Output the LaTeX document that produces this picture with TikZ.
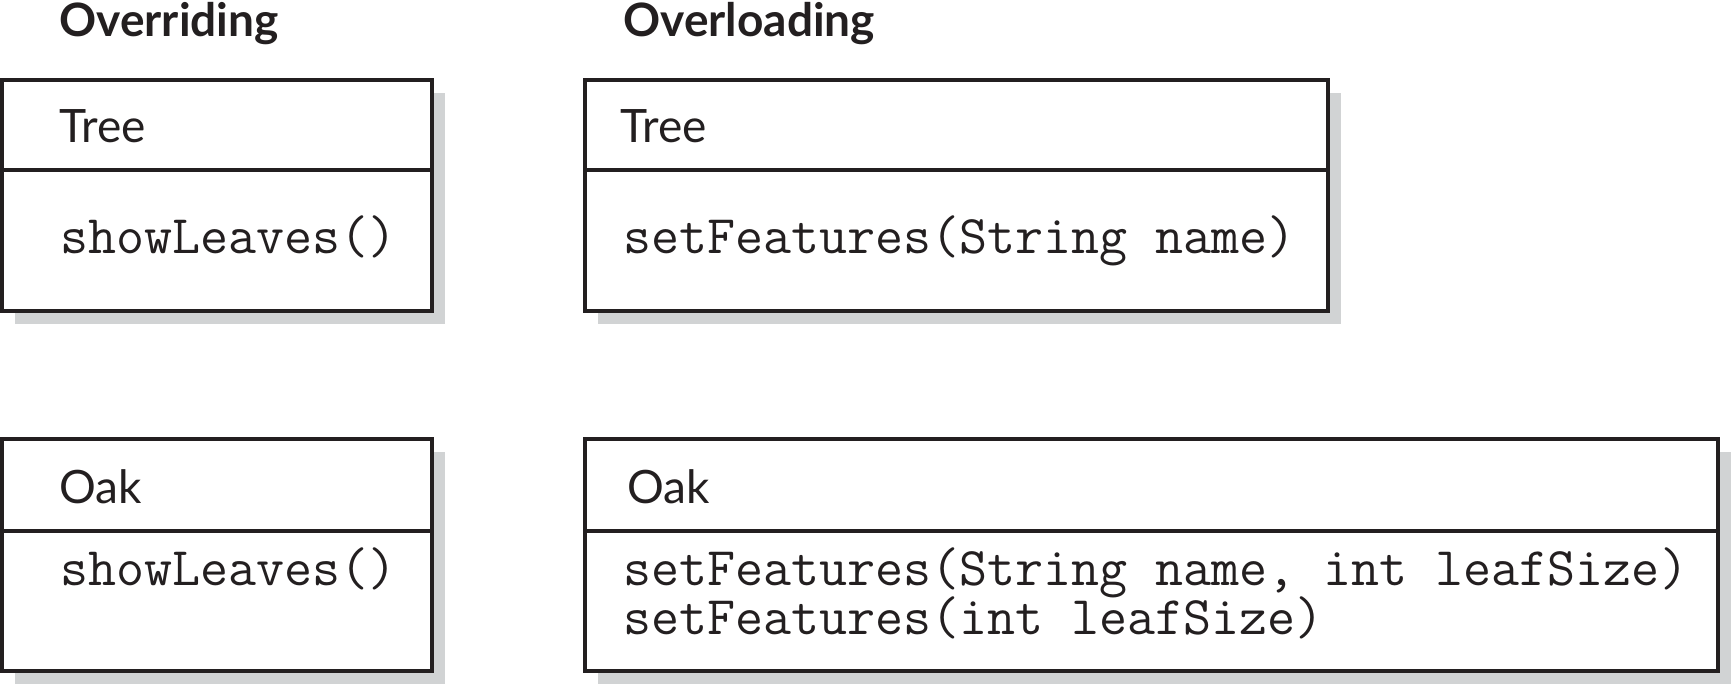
\documentclass[tikz,border=0pt]{standalone}
\usepackage{fontspec}
\usetikzlibrary{positioning,shadows}
\newfontfamily\clsfont{Lato}
\newfontfamily\opfont{Latin Modern Mono}
\definecolor{shadegray}{RGB}{209,211,212}
\definecolor{inkblack}{RGB}{35,31,32}
\tikzset{%
	box/.style={draw=inkblack, line width=2pt, fill=white, outer sep=0pt, anchor=north west,
		drop shadow={shadow xshift=6.5pt, shadow yshift=-6.5pt, fill=shadegray, opacity=1}},
	cname/.style={anchor=base west, inner sep=0pt, text=inkblack, font=\clsfont\fontsize{23}{27}\selectfont},
	op/.style={anchor=base west, inner sep=0pt, text=inkblack, font=\opfont\fontsize{27.2}{31}\selectfont},
	heading/.style={anchor=base west, inner sep=0pt, text=inkblack, font=\clsfont\bfseries\fontsize{23}{27}\selectfont}}

\begin{document}
\begin{tikzpicture}[x=1pt,y=1pt]
		\useasboundingbox (0,0) rectangle (866,-343.5);
		\node[heading] (overriding) at (29.5,-18) {Overriding};
		\node[heading] (overloading) at (311.5,-18) {Overloading};
		
		% overriding
		\node[box, minimum width=215pt, minimum height=45pt] (treeA) at (1,-40) {};
		\node[box, minimum width=215pt, minimum height=70.5pt, below=0pt of treeA] (treeAops) {};
		\node[box, minimum width=215pt, minimum height=46pt] (oakA) at (1,-219.5) {};
		\node[box, minimum width=215pt, minimum height=70pt, below=0pt of oakA] (oakAops) {};
		
		\node[cname] (treeAname) at ([xshift=28.5pt,yshift=-31pt]treeA.north west) {Tree};
		\node[op] (treeAshow) at ([xshift=29pt,yshift=-41.5pt]treeAops.north west) {showLeaves()};
		\node[cname] (oakAname) at ([xshift=28.5pt,yshift=-32pt]oakA.north west) {Oak};
		\node[op] (oakAshow) at ([xshift=29pt,yshift=-27pt]oakAops.north west) {showLeaves()};
		
		% overloading
		\node[box, minimum width=371.5pt, minimum height=45pt] (treeB) at (292.5,-40) {};
		\node[box, minimum width=371.5pt, minimum height=70.5pt, below=0pt of treeB] (treeBops) {};
		\node[box, minimum width=566.5pt, minimum height=46pt] (oakB) at (292.5,-219.5) {};
		\node[box, minimum width=566.5pt, minimum height=70pt, below=0pt of oakB] (oakBops) {};
		
		\node[cname] (treeBname) at ([xshift=17.5pt,yshift=-31pt]treeB.north west) {Tree};
		\node[op] (treeBset) at ([xshift=19pt,yshift=-41.5pt]treeBops.north west) {setFeatures(String name)};
		\node[cname] (oakBname) at ([xshift=21pt,yshift=-32pt]oakB.north west) {Oak};
		\node[op] (oakBsetA) at ([xshift=19pt,yshift=-27pt]oakBops.north west) {setFeatures(String name, int leafSize)};
		\node[op] (oakBsetB) at ([xshift=19pt,yshift=-51.5pt]oakBops.north west) {setFeatures(int leafSize)};
	\end{tikzpicture}
\end{document}
